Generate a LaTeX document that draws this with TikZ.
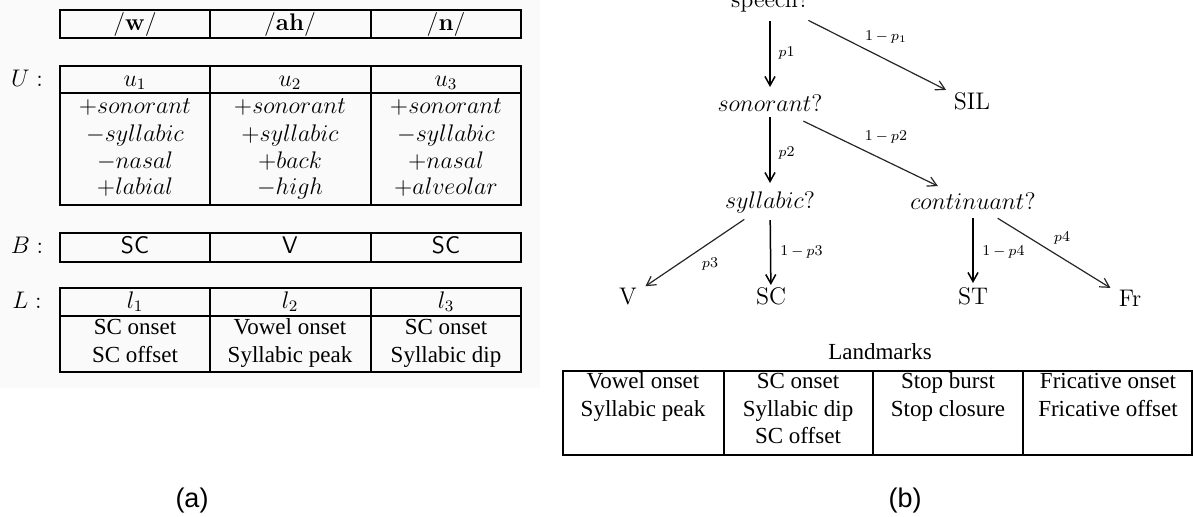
\documentclass[tikz,border=0pt]{standalone}
\usepackage{fontspec}
\newfontfamily\tms{Liberation Serif}
\newfontfamily\arl{Liberation Sans}
\usetikzlibrary{arrows.meta}
\begin{document}
\begin{tikzpicture}[x=0.5pt,y=-0.5pt,
  tbl/.style={line width=1pt},
  txt/.style={inner sep=0pt, outer sep=0pt, text height=7.5pt, text depth=1.5pt},
  mm/.style={txt, font=\fontsize{12}{14}\selectfont},
  tt/.style={txt, font=\tms\fontsize{11.5}{13}\selectfont},
  ss/.style={txt, font=\sffamily\fontsize{12}{14}\selectfont},
  tree/.style={txt, font=\fontsize{12}{14}\selectfont},
  elab/.style={inner sep=0pt, font=\fontsize{7.5}{9}\selectfont},
  figcap/.style={inner sep=0pt, font=\arl\fontsize{13.5}{16}\selectfont},
  varrow/.style={line width=0.75pt, -{Straight Barb[length=4.5pt,width=5pt]}},
  darrow/.style={line width=0.6pt, black!85, -{Straight Barb[length=4.5pt,width=5pt]}}]
\useasboundingbox (0,0) rectangle (1193,516);
\fill[black!2] (0,0) rectangle (540,388);

% ---------- (a) tables ----------
\draw[tbl] (60,10) rectangle (521,38) (210,10)--(210,38) (371,10)--(371,38);
\node[mm] (ph1) at (135,24) {/\textbf{w}/};
\node[mm] (ph2) at (290,24) {/\textbf{ah}/};
\node[mm] (ph3) at (446,24) {/\textbf{n}/};

\node[mm] (Ulab) at (27,80) {$U:$};
\draw[tbl] (60,66) rectangle (521,205) (60,93)--(521,93) (210,66)--(210,205) (371,66)--(371,205);
\node[mm] (u1) at (135,80) {$u_1$};
\node[mm] (u2) at (290,80) {$u_2$};
\node[mm] (u3) at (446,80) {$u_3$};
\node[mm] (f11) at (135,107) {$+sonorant$};
\node[mm] (f12) at (135,135) {$-syllabic$};
\node[mm] (f13) at (135,162) {$-nasal$};
\node[mm] (f14) at (135,188) {$+labial$};
\node[mm] (f21) at (290,107) {$+sonorant$};
\node[mm] (f22) at (290,135) {$+syllabic$};
\node[mm] (f23) at (290,162) {$+back$};
\node[mm] (f24) at (290,188) {$-high$};
\node[mm] (f31) at (446,107) {$+sonorant$};
\node[mm] (f32) at (446,135) {$-syllabic$};
\node[mm] (f33) at (446,162) {$+nasal$};
\node[mm] (f34) at (446,188) {$+alveolar$};

\node[mm] (Blab) at (27,247) {$B:$};
\draw[tbl] (60,233) rectangle (521,262) (210,233)--(210,262) (371,233)--(371,262);
\node[ss] (b1) at (135,247) {SC};
\node[ss] (b2) at (290,247) {V};
\node[ss] (b3) at (446,247) {SC};

\node[mm] (Llab) at (27,302) {$L:$};
\draw[tbl] (60,288) rectangle (521,372) (60,316)--(521,316) (210,288)--(210,372) (371,288)--(371,372);
\node[mm] (l1) at (135,302) {$l_1$};
\node[mm] (l2) at (290,302) {$l_2$};
\node[mm] (l3) at (446,302) {$l_3$};
\node[tt] (m11) at (135,328) {SC onset};
\node[tt] (m12) at (135,356) {SC offset};
\node[tt] (m21) at (290,328) {Vowel onset};
\node[tt] (m22) at (290,356) {Syllabic peak};
\node[tt] (m31) at (446,328) {SC onset};
\node[tt] (m32) at (446,356) {Syllabic dip};

\node[figcap] (capa) at (192,500) {(a)};

% ---------- (b) tree ----------
\node[tree] (speech) at (770,1) {speech?};
\node[tree] (sonor) at (770,105) {$sonorant?$};
\node[tree] (sil) at (972,103) {SIL};
\node[tree] (syll) at (770,202) {$syllabic?$};
\node[tree] (cont) at (973,203) {$continuant?$};
\node[tree] (V) at (628,298) {V};
\node[tree] (SC) at (771,298) {SC};
\node[tree] (ST) at (973,298) {ST};
\node[tree] (Fr) at (1130,300) {Fr};

\draw[varrow, shorten <=10pt, shorten >=9pt] (speech.center) -- (sonor.center);
\draw[darrow, shorten <=21.5pt, shorten >=14.5pt] (speech.center) -- (sil.center);
\draw[varrow, shorten <=6pt, shorten >=9.5pt] (sonor.center) -- (syll.center);
\draw[darrow, shorten <=18.5pt, shorten >=19.5pt] (sonor.center) -- (cont.center);
\draw[darrow, shorten <=15.5pt, shorten >=10.5pt] (syll.center) -- (V.center);
\draw[varrow, shorten <=9pt, shorten >=6.5pt] (syll.center) -- (SC.center);
\draw[varrow, shorten <=7.5pt, shorten >=7.5pt] (cont.center) -- (ST.center);
\draw[darrow, shorten <=14.5pt, shorten >=11.5pt] (cont.center) -- (Fr.center);

\node[elab, anchor=west] (lp1) at (778,53) {$p$1};
\node[elab] (lq1) at (886,37) {1$\,-\,p_1$};
\node[elab, anchor=west] (lp2) at (778,153) {$p$2};
\node[elab] (lq2) at (886,137) {1$\,-\,p$2};
\node[elab] (lp3) at (710,264) {$p$3};
\node[elab, anchor=west] (lq3) at (780,252) {1$\,-\,p$3};
\node[elab, anchor=west] (lq4) at (982,252) {1$\,-\,p$4};
\node[elab] (lp4) at (1062,238) {$p$4};

% ---------- (b) landmarks table ----------
\node[tt] (lmk) at (880,353) {Landmarks};
\draw[tbl] (563,371) rectangle (1192,455) (724,371)--(724,455) (873,371)--(873,455) (1023,371)--(1023,455);
\node[tt] (r11) at (643,382) {Vowel onset};
\node[tt] (r12) at (643,410) {Syllabic peak};
\node[tt] (r21) at (798,382) {SC onset};
\node[tt] (r22) at (798,410) {Syllabic dip};
\node[tt] (r23) at (798,437) {SC offset};
\node[tt] (r31) at (948,382) {Stop burst};
\node[tt] (r32) at (948,410) {Stop closure};
\node[tt] (r41) at (1108,382) {Fricative onset};
\node[tt] (r42) at (1108,410) {Fricative offset};

\node[figcap] (capb) at (905,500) {(b)};
\end{tikzpicture}
\end{document}
